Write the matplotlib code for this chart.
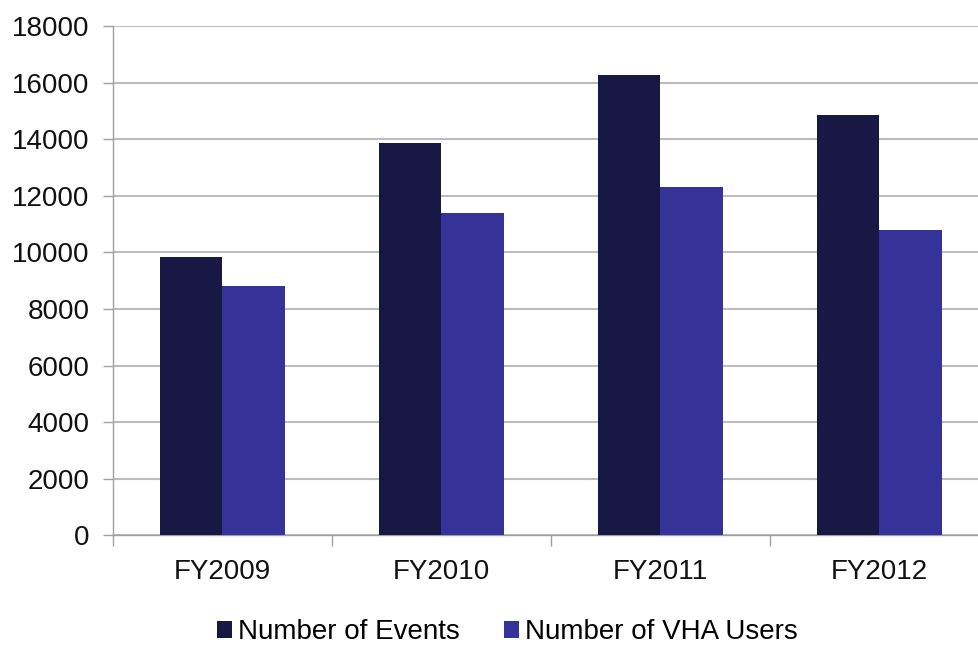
import matplotlib
matplotlib.use("Agg")
import matplotlib.pyplot as plt
from matplotlib.patches import Patch
import numpy as np

plt.rcParams['font.family'] = ['Liberation Sans', 'DejaVu Sans']

categories = ["FY2009", "FY2010", "FY2011", "FY2012"]
events = [9850, 13870, 16280, 14850]
vha_users = [8820, 11380, 12300, 10780]
series_names = ["Number of Events", "Number of VHA Users"]
colors = ["#181844", "#353399"]
y_ticks = [0, 2000, 4000, 6000, 8000, 10000, 12000, 14000, 16000, 18000]

fig = plt.figure(figsize=(9.79, 6.46), dpi=100)
W, H = 979, 646
ax = fig.add_axes([113 / W, (H - 535.3) / H, (989 - 113) / W, (535.3 - 26) / H])

x = np.arange(len(categories))
bw = 0.285
ax.bar(x - bw / 2, events, width=bw, color=colors[0], zorder=3)
ax.bar(x + bw / 2, vha_users, width=bw, color=colors[1], zorder=3)

ax.set_xlim(-0.5, len(categories) - 0.5)
ax.set_ylim(0, 18000)
ax.set_yticks(y_ticks)
ax.set_yticklabels([str(v) for v in y_ticks], fontsize=20)
ax.yaxis.grid(True, color="#bdbdbd", linewidth=1.5, zorder=0)
ax.set_axisbelow(True)

ax.set_xticks(x)
ax.set_xticklabels(categories, fontsize=20)
ax.set_xticks(np.arange(len(categories) + 1) - 0.5, minor=True)
ax.tick_params(axis='x', which='major', length=0, pad=17, colors='#111111')
ax.tick_params(axis='x', which='minor', length=8, width=1, color='#a0a0a0')
ax.tick_params(axis='y', length=7, width=1, color='#a0a0a0', pad=10, labelcolor='#111111')

for s in ['top', 'right']:
    ax.spines[s].set_visible(False)
for s in ['left', 'bottom']:
    ax.spines[s].set_color('#a0a0a0')
    ax.spines[s].set_linewidth(1)

handles = [Patch(facecolor=c, edgecolor='none') for c in colors]
fig.legend(handles, series_names, loc='center', bbox_to_anchor=(507 / W, (H - 632) / H),
           ncol=2, frameon=False, fontsize=20, handlelength=0.55, handleheight=0.55,
           handletextpad=0.2, columnspacing=1.6, borderpad=0)

fig.savefig("out.png", dpi=100)
